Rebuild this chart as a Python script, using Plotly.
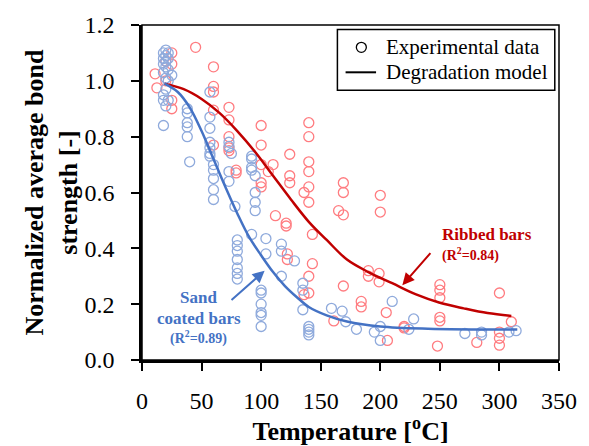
import plotly.graph_objects as go

# Bond strength after exposure to elevated temperature (normalized to ambient)
sand_temp = [18, 18, 18, 18, 18, 18, 18,
             20, 20, 20, 20, 20, 20, 20,
             22, 22, 22, 22, 22, 25,
             38, 38, 38, 38, 38, 40,
             57, 57, 57, 57, 57, 57, 57, 60, 60, 60, 60, 60,
             73, 73, 75, 73, 73, 78,
             80, 80, 80, 80, 80, 80, 80,
             92, 92, 92, 92, 95, 95, 95, 95, 92,
             100, 100, 100, 100, 100, 100,
             104, 104, 117, 117, 117, 128,
             135, 135, 135, 140, 140, 140, 140,
             159, 168, 171, 180, 195, 200, 200, 210, 224, 228,
             271, 285, 285, 308, 314]
sand_strength = [1.10, 1.08, 1.06, 1.03, 0.95, 0.93, 0.84,
                 1.11, 1.09, 1.07, 1.05, 1.01, 0.97, 0.91,
                 1.10, 1.08, 1.04, 1.00, 0.93, 1.02,
                 0.90, 0.885, 0.85, 0.835, 0.80, 0.71,
                 0.96, 0.87, 0.83, 0.78, 0.76, 0.74, 0.73, 0.70, 0.68, 0.65, 0.61, 0.575,
                 0.78, 0.765, 0.74, 0.675, 0.64, 0.55,
                 0.43, 0.41, 0.39, 0.36, 0.33, 0.31, 0.29,
                 0.73, 0.72, 0.69, 0.68, 0.66, 0.60, 0.565, 0.535, 0.45,
                 0.25, 0.24, 0.20, 0.17, 0.16, 0.12,
                 0.435, 0.38, 0.415, 0.39, 0.30, 0.355,
                 0.275, 0.25, 0.18, 0.12, 0.11, 0.10, 0.09,
                 0.185, 0.175, 0.137, 0.11, 0.10, 0.12, 0.07, 0.21, 0.11, 0.147,
                 0.095, 0.10, 0.09, 0.10, 0.105]

ribbed_temp = [11, 12.5, 20, 20, 25, 25, 25, 25, 45,
               60, 60, 60, 60, 60,
               73, 73, 73, 73, 73, 79, 79,
               100, 100, 100, 100, 100, 106, 110, 112,
               121, 121, 122, 122, 124, 124, 124,
               136, 136, 140, 140, 140, 140, 140, 140, 140, 140, 143, 143,
               161, 165, 169, 169, 169, 169,
               184, 184, 190, 190, 199, 199, 200, 200, 205, 206, 220, 220,
               248, 250, 250, 250, 250, 250,
               281, 300, 300, 300, 300, 310]
ribbed_strength = [1.025, 0.975, 1.07, 1.00, 1.10, 1.06, 0.93, 0.90, 1.12,
                   1.05, 0.98, 0.96, 0.895, 0.77,
                   0.905, 0.86, 0.80, 0.76, 0.75, 0.68, 0.67,
                   0.84, 0.77, 0.70, 0.635, 0.62, 0.675, 0.70, 0.517,
                   0.49, 0.48, 0.38, 0.36, 0.737, 0.66, 0.635,
                   0.60, 0.234, 0.85, 0.80, 0.71, 0.675, 0.62, 0.565, 0.30, 0.24, 0.45, 0.345,
                   0.14, 0.535, 0.635, 0.60, 0.52, 0.265,
                   0.21, 0.19, 0.32, 0.30, 0.31, 0.28, 0.59, 0.53, 0.17, 0.07, 0.12, 0.115,
                   0.05, 0.27, 0.25, 0.223, 0.153, 0.14,
                   0.063, 0.24, 0.10, 0.078, 0.053, 0.137]

# Fitted degradation model curves
sand_model_temp = [19, 30, 40, 50, 60, 70, 80, 90, 100, 110, 120, 130, 140, 155, 172, 200, 240, 315]
sand_model_strength = [0.99, 0.96, 0.905, 0.82, 0.72, 0.62, 0.525, 0.44, 0.375, 0.315,
                       0.265, 0.225, 0.19, 0.16, 0.138, 0.12, 0.112, 0.109]
ribbed_model_temp = [19, 35, 50, 65, 80, 95, 110, 125, 140, 155, 172, 190, 210, 230, 250, 270, 290, 310]
ribbed_model_strength = [0.99, 0.97, 0.935, 0.885, 0.82, 0.745, 0.66, 0.575, 0.495, 0.43,
                         0.36, 0.315, 0.275, 0.235, 0.205, 0.185, 0.168, 0.158]

x_ticks = [0, 50, 100, 150, 200, 250, 300, 350]
y_ticks = [0.0, 0.2, 0.4, 0.6, 0.8, 1.0, 1.2]
y_tick_text = ["0.0", "0.2", "0.4", "0.6", "0.8", "1.0", "1.2"]

legend_labels = ["Experimental data", "Degradation model"]

FONT = "Liberation Serif, Times New Roman, serif"
BLUE_LINE = "#4472C4"
BLUE_MARK = "#8FAADC"
RED_LINE = "#C00000"
RED_MARK = "#FF7C80"

fig = go.Figure()

fig.add_trace(go.Scatter(x=ribbed_temp, y=ribbed_strength, mode="markers",
                         marker=dict(symbol="circle-open", size=10, color=RED_MARK, line=dict(width=1.3)),
                         showlegend=False, hoverinfo="skip"))
fig.add_trace(go.Scatter(x=sand_temp, y=sand_strength, mode="markers",
                         marker=dict(symbol="circle-open", size=10, color=BLUE_MARK, line=dict(width=1.3)),
                         showlegend=False, hoverinfo="skip"))
fig.add_trace(go.Scatter(x=ribbed_model_temp, y=ribbed_model_strength, mode="lines",
                         line=dict(color=RED_LINE, width=2.5, shape="spline"),
                         showlegend=False, hoverinfo="skip"))
fig.add_trace(go.Scatter(x=sand_model_temp, y=sand_model_strength, mode="lines",
                         line=dict(color=BLUE_LINE, width=2.5, shape="spline"),
                         showlegend=False, hoverinfo="skip"))

annotations = []
# Labels for the two bar types
for txt, xx, yy, size in [("<b>Sand</b>", 47.0, 0.224, 17),
                          ("<b>coated bars</b>", 47.9, 0.150, 17),
                          ("<b>(R<sup>2</sup>=0.89)</b>", 47.5, 0.080, 14)]:
    annotations.append(dict(x=xx, y=yy, xref="x", yref="y", text=txt, showarrow=False,
                            xanchor="center", yanchor="middle",
                            font=dict(family=FONT, size=size, color=BLUE_LINE)))
for txt, yy, size in [("<b>Ribbed bars</b>", 0.448, 17),
                      ("<b>(R<sup>2</sup>=0.84)</b>", 0.378, 14)]:
    annotations.append(dict(x=250.0, y=yy, xref="x", yref="y", text=txt, showarrow=False,
                            xanchor="left", yanchor="middle",
                            font=dict(family=FONT, size=size, color=RED_LINE)))
# Pointer arrows
annotations.append(dict(x=102.9, y=0.32, ax=72.6, ay=0.205, xref="x", yref="y", axref="x", ayref="y",
                        text=" ", showarrow=True, arrowhead=2, arrowsize=1.2, arrowwidth=2,
                        arrowcolor=BLUE_LINE))
annotations.append(dict(x=218.5, y=0.268, ax=244.6, ay=0.395, xref="x", yref="y", axref="x", ayref="y",
                        text=" ", showarrow=True, arrowhead=2, arrowsize=1.2, arrowwidth=2,
                        arrowcolor=RED_LINE))

# Legend box drawn in paper coordinates
leg_x0, leg_x1, leg_y0, leg_y1 = 0.4686, 0.9899, 0.805, 0.9864
row_y = [0.9333, 0.8588]
text_x = 0.5809
for lbl, yy in zip(legend_labels, row_y):
    annotations.append(dict(x=text_x, y=yy, xref="paper", yref="paper", text=lbl, showarrow=False,
                            xanchor="left", yanchor="middle",
                            font=dict(family=FONT, size=21, color="black")))

shapes = [
    dict(type="rect", xref="x domain", yref="y domain", x0=0, x1=1, y0=0, y1=1,
         line=dict(color="black", width=1.5), layer="above"),
    dict(type="rect", xref="paper", yref="paper", x0=leg_x0, x1=leg_x1, y0=leg_y0, y1=leg_y1,
         fillcolor="white", line=dict(color="black", width=1.5), layer="above"),
    dict(type="circle", xref="paper", yref="paper", xsizemode="pixel", ysizemode="pixel",
         xanchor=0.526, yanchor=row_y[0], x0=-5, x1=5, y0=-5, y1=5,
         line=dict(color="black", width=1.3), layer="above"),
    dict(type="line", xref="paper", yref="paper", x0=0.4882, x1=0.5613, y0=row_y[1], y1=row_y[1],
         line=dict(color="black", width=2), layer="above"),
]

fig.update_layout(
    width=589, height=446,
    margin=dict(l=142, r=23, t=22, b=79),
    paper_bgcolor="white", plot_bgcolor="white",
    font=dict(family=FONT, color="black"),
    showlegend=False,
    annotations=annotations,
    shapes=shapes,
)

fig.update_xaxes(
    range=[0, 350], tickvals=x_ticks, showgrid=False, zeroline=False,
    showline=True, linecolor="black", linewidth=2.5,
    ticks="outside", ticklen=8, tickwidth=2, tickcolor="black",
    ticklabelstandoff=9,
    tickfont=dict(family=FONT, size=24, color="black"),
    title=dict(text="Temperature [<sup>o</sup>C]", standoff=2,
               font=dict(family=FONT, size=26, color="black", weight="bold")),
)
fig.update_yaxes(
    range=[0, 1.2], tickvals=y_ticks, ticktext=y_tick_text, showgrid=False, zeroline=False,
    showline=True, linecolor="black", linewidth=2.5,
    ticks="outside", ticklen=8, tickwidth=2, tickcolor="black",
    ticklabelstandoff=12,
    tickfont=dict(family=FONT, size=24, color="black"),
    title=dict(text="Normalized average bond<br>strength [-]", standoff=0,
               font=dict(family=FONT, size=26, color="black", weight="bold")),
)

fig.write_html("out.html")
